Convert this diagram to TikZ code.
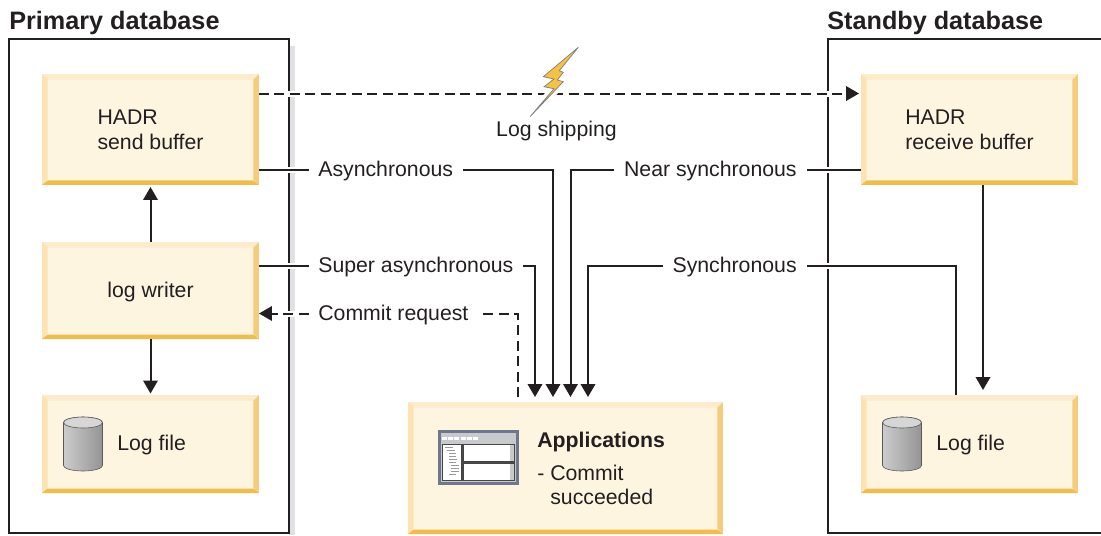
\documentclass[tikz,border=0pt]{standalone}
\usepackage{fontspec}
\setmainfont{Liberation Sans}
\usepackage{tikz}
\usetikzlibrary{arrows.meta, calc, shadows}
\definecolor{inkdark}{RGB}{35, 31, 32}
\definecolor{boxface}{RGB}{254, 245, 225}
\definecolor{boxtop}{RGB}{253, 235, 203}
\definecolor{boxleft}{RGB}{253, 226, 179}
\definecolor{boxright}{RGB}{245, 204, 124}
\definecolor{boxbottom}{RGB}{242, 188, 75}
\definecolor{frameshadow}{RGB}{224, 225, 227}
\definecolor{iconslate}{RGB}{109, 120, 140}
\definecolor{icongrey}{RGB}{200, 201, 203}
\definecolor{boltyellow}{RGB}{245, 194, 66}
\tikzset{
  bevelbox/.style={rectangle, fill=boxface, inner sep=0pt, outer sep=0pt, align=left,
    text=inkdark, font=\fontsize{12.1}{14.2}\selectfont, minimum width=#1,
    execute at begin node={\rule{0pt}{10pt}},
    path picture={
      \fill[boxtop] (path picture bounding box.north west) -- (path picture bounding box.north east)
        -- ([shift={(-.11cm,-.11cm)}]path picture bounding box.north east)
        -- ([shift={(.11cm,-.11cm)}]path picture bounding box.north west) -- cycle;
      \fill[boxleft] (path picture bounding box.north west) -- (path picture bounding box.south west)
        -- ([shift={(.11cm,.11cm)}]path picture bounding box.south west)
        -- ([shift={(.11cm,-.11cm)}]path picture bounding box.north west) -- cycle;
      \fill[boxright] (path picture bounding box.north east) -- (path picture bounding box.south east)
        -- ([shift={(-.11cm,.11cm)}]path picture bounding box.south east)
        -- ([shift={(-.11cm,-.11cm)}]path picture bounding box.north east) -- cycle;
      \fill[boxbottom] (path picture bounding box.south west) -- (path picture bounding box.south east)
        -- ([shift={(-.11cm,.09cm)}]path picture bounding box.south east)
        -- ([shift={(.11cm,.09cm)}]path picture bounding box.south west) -- cycle;
    }},
  bevelbox/.default=4.34cm,
  plaintext/.style={inner sep=0pt, text=inkdark, font=\fontsize{12.1}{14.2}\selectfont},
  titletext/.style={inner sep=0pt, anchor=base west, text=inkdark, font=\fontsize{14.35}{17}\selectfont\bfseries},
  linelabel/.style={plaintext, inner xsep=.19cm, text height=10pt, text depth=2.5pt},
  conn/.style={line width=.04cm, inkdark},
  dashconn/.style={conn, dash pattern=on .2cm off .11cm},
  halo/.style={preaction={draw=white, solid, line width=.12cm, arrows=-}},
  arr/.style={-{Triangle[length=.26cm, width=.29cm]}},
  dbframe/.style={line width=.04cm, inkdark}
}

\begin{document}
\begin{tikzpicture}[x=.02cm, y=-.02cm]
  \useasboundingbox (0, 0) rectangle (1101, 535);

  % Database frames
  \fill[frameshadow] (289, 46) rectangle (295, 535);
  \draw[dbframe] (9, 39) rectangle (289, 533);
  \draw[dbframe] (1101, 39) -- (828, 39) -- (828, 533) -- (1101, 533);
  \node[titletext] (primarytitle) at (9, 29) {Primary database};
  \node[titletext] (standbytitle) at (827, 29) {Standby database};

  % Boxes
  \node[bevelbox, minimum height=2.22cm] (sendbuf) at (150.5, 129.5) {HADR\\send buffer};
  \node[bevelbox, minimum height=1.94cm] (writer) at (150.5, 290.5) {log writer};
  \node[bevelbox, minimum height=1.96cm] (primfile) at (150.5, 444) {};
  \node[bevelbox, minimum height=2.22cm] (recvbuf) at (969.5, 129.5) {HADR\\receive buffer};
  \node[bevelbox, minimum height=1.96cm] (stbfile) at (969.5, 444) {};
  \node[bevelbox=6.3cm, minimum height=2.64cm] (app) at (565.5, 468) {};

  % Log file text and cylinders
  \node[plaintext, anchor=base west] (primfiletext) at (117, 450) {Log file};
  \node[plaintext, anchor=base west] (stbfiletext) at (936, 450) {Log file};
  \foreach \cx in {83, 902} {
    \draw[line width=.012cm, black!65, left color=black!20, right color=black!42]
      (\cx-19.5, 422.5) -- (\cx-19.5, 465.5) arc[start angle=180, end angle=360, x radius=.39cm, y radius=.11cm]
      -- (\cx+19.5, 422.5) arc[start angle=0, end angle=180, x radius=.39cm, y radius=.11cm] -- cycle;
    \draw[line width=.012cm, black!65, fill=black!16] (\cx, 422.5) ellipse[x radius=.39cm, y radius=.11cm];
  }

  % Applications text and window icon
  \node[plaintext, anchor=base west, font=\fontsize{12.1}{14.2}\selectfont\bfseries] (apptitle) at (537, 447) {Applications};
  \node[plaintext, anchor=base west] (appcommit) at (537, 480) {- Commit};
  \node[plaintext, anchor=base west] (appdone) at (550, 504) {succeeded};
  \fill[iconslate] (438, 430) rectangle (519, 485);
  \fill[icongrey] (441, 433) rectangle (516, 482);
  \foreach \bx in {442, 448, 454, 461, 467, 473} {
    \fill[white] (\bx, 437) rectangle +(.1cm, -.06cm);
  }
  \fill[black!72] (442, 444) rectangle (515, 481);
  \fill[white] (443, 445) rectangle (461, 480);
  \fill[white] (464, 445) rectangle (514, 461);
  \fill[white] (464, 464) rectangle (514, 480);
  \fill[icongrey] (510, 445) rectangle (514, 461);
  \fill[icongrey] (510, 464) rectangle (514, 480);
  \foreach \ty/\tx/\tl in {447/445/8, 450/447/8, 453/449/7, 456/449/7, 459/449/8, 462/449/7, 465/451/8, 468/451/8, 471/451/8, 474/449/7} {
    \fill[black!40] (\tx, \ty) rectangle +(\tl*.02cm, -.02cm);
  }

  % Log shipping
  \draw[dashconn, arr, halo, shorten >=.04cm] (sendbuf.east |- 0, 93.5) -- (recvbuf.west |- 0, 93.5);
  \draw[line width=.014cm, black!50, fill=boltyellow, drop shadow={shadow xshift=.05cm, shadow yshift=-.03cm, fill=black!25},
    preaction={draw=white, line width=.16cm}]
    (578.3, 47.3) -- (543.3, 76.7) -- (554, 79) -- (544, 86.7) -- (554, 88.7) -- (530, 116.7)
    -- (563.3, 81.7) -- (557.3, 80) -- (563.3, 72.3) -- (559.3, 70.7) -- cycle;
  \node[plaintext, anchor=base] (shiplabel) at (556.5, 136) {Log shipping};

  % Line labels
  \node[linelabel, anchor=west] (asyncl) at (308.5, 170) {Asynchronous};
  \node[linelabel, anchor=west] (superl) at (308.5, 265.5) {Super asynchronous};
  \node[linelabel, anchor=west] (commitl) at (308.5, 313.5) {Commit request};
  \node[linelabel, anchor=east] (nearl) at (806.5, 170) {Near synchronous};
  \node[linelabel, anchor=east] (syncl) at (806.5, 266) {Synchronous};

  % Free ends above Applications
  \coordinate (commitout) at (518, 397);
  \coordinate (superin) at (535, 397);
  \coordinate (asyncin) at (553, 397);
  \coordinate (nearin) at (570.5, 397);
  \coordinate (syncin) at (588, 397);
  \coordinate (syncup) at (955.5, 395);
  \coordinate (recvdown) at (983, 185);
  \coordinate (recvfile) at (983, 390);

  % Replication modes
  \draw[conn, halo] (sendbuf.east |- asyncl) -- (asyncl.west);
  \draw[conn, arr] (asyncl.east) -| (asyncin);
  \draw[conn, halo] (writer.east |- superl) -- (superl.west);
  \draw[conn, arr] (superl.east) -| (superin);
  \draw[conn, halo] (recvbuf.west |- nearl) -- (nearl.east);
  \draw[conn, arr] (nearl.west) -| (nearin);
  \draw[conn, halo] (syncl.east) -| (syncup);
  \draw[conn, arr] (syncl.west) -| (syncin);

  % Commit request
  \draw[dashconn] (commitout) |- (commitl.east);
  \draw[dashconn, arr, halo] (commitl.west) -- (writer.east |- commitl);

  % Local arrows
  \draw[conn, arr, shorten >=.04cm] (writer.north) -- (sendbuf.south);
  \draw[conn, arr, shorten >=.03cm] (writer.south) -- (primfile.north);
  \draw[conn, arr] (recvdown) -- (recvfile);
\end{tikzpicture}
\end{document}
